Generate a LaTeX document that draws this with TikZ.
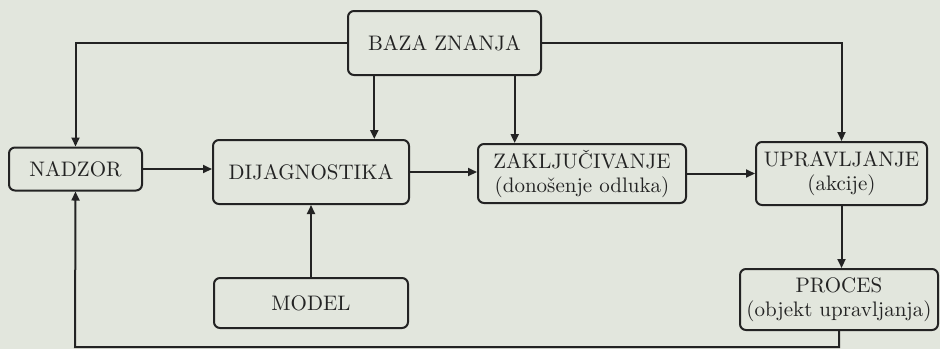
\documentclass[tikz,border=0pt]{standalone}
\usepackage{fontspec}
\usetikzlibrary{arrows.meta,calc}
\definecolor{paper}{RGB}{226,230,221}
\definecolor{ink}{RGB}{35,35,35}
\begin{document}
\begin{tikzpicture}[x=0.5pt,y=-0.5pt,
  blok/.style={draw=ink,line width=1pt,rounded corners=3pt,align=center,inner sep=0pt,
    font=\fontsize{10.5}{12}\selectfont,text=ink},
  veza/.style={draw=ink,line width=1pt,-{Triangle[length=4.5pt,width=4pt]}}]
  \fill[paper] (0,0) rectangle (940,349);
  \useasboundingbox (0,0) rectangle (940,349);
  \node[blok,minimum width=96.5pt,minimum height=32pt] (baza) at (444.5,43) {BAZA ZNANJA};
  \node[blok,minimum width=66.5pt,minimum height=21.5pt] (nadzor) at (75.5,169) {NADZOR};
  \node[blok,minimum width=98pt,minimum height=32pt] (dijag) at (311,172) {DIJAGNOSTIKA};
  \node[blok,minimum width=97pt,minimum height=25pt] (model) at (311,303) {MODEL};
  \node[blok,minimum width=104pt,minimum height=29.5pt] (zaklj) at (582,173.5) {ZAKLJUČIVANJE\\(donošenje odluka)};
  \node[blok,minimum width=85.5pt,minimum height=31.5pt] (uprav) at (841.5,173.5) {UPRAVLJANJE\\(akcije)};
  \node[blok,minimum width=99pt,minimum height=30.5pt] (proces) at (839,299.5) {PROCES\\(objekt upravljanja)};
  \coordinate (b1) at ($(baza.south west)!.14!(baza.south east)$);
  \coordinate (b2) at ($(baza.south west)!.86!(baza.south east)$);
  \coordinate (dno) at (75,347);
  \draw[veza] (baza.west) -| (nadzor.north);
  \draw[veza] (baza.east) -| (uprav.north);
  \draw[veza] (b1) -- (b1 |- dijag.north);
  \draw[veza] (b2) -- (b2 |- zaklj.north);
  \draw[veza] (nadzor.east) -- (nadzor.east -| dijag.west);
  \draw[veza] (dijag.east) -- (dijag.east -| zaklj.west);
  \draw[veza] (zaklj.east) -- (zaklj.east -| uprav.west);
  \draw[veza] (model.north) -- (dijag.south);
  \draw[veza] (uprav.south) -- (uprav.south |- proces.north);
  \draw[veza] (proces.south) |- (dno) -- (nadzor.south);
\end{tikzpicture}
\end{document}
